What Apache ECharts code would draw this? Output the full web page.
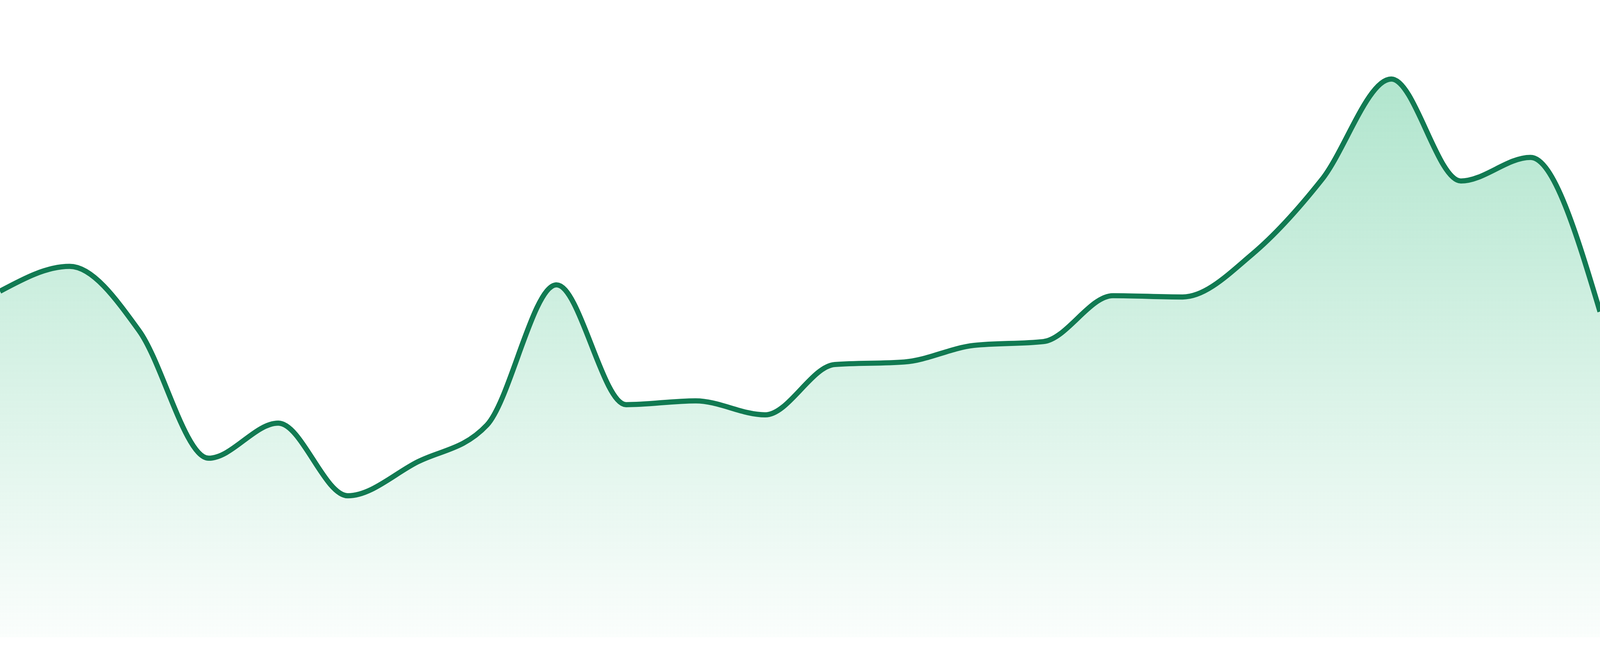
<!DOCTYPE html>
<html>
<head>
<meta charset="utf-8">
<title>area trend</title>
<script src="https://cdn.jsdelivr.net/npm/echarts@6/dist/echarts.min.js"></script>
<style>
	html, body { margin: 0; padding: 0; background: #ffffff; width: 100%; height: 100%; overflow: hidden; }
	#main { width: 100vw; height: 100vh; }
</style>
</head>
<body>
<div id="main"></div>
<script>
// x categories (no labels shown in the picture)
var days = [ '01', '02', '03', '04', '05', '06', '07', '08', '09', '10', '11', '12',
	'13', '14', '15', '16', '17', '18', '19', '20', '21', '22', '23', '24' ];
// series values (0 - 100 scale)
var values = [ 54.3, 58.2, 48.1, 28.1, 33.6, 22.2, 27.5, 33.3, 55.3, 36.5, 37.1, 34.9,
	42.8, 43.2, 45.8, 46.4, 53.6, 53.4, 60.1, 71.8, 87.6, 71.6, 75.3, 51.1 ];
var yMin = 0;
var yMax = 100;

// monotone-x cubic through the pixel points (same maths as d3 curveMonotoneX)
function monotonePath(pts) {
	var n = pts.length;
	var t = [];
	function sign(v) {
		return v < 0 ? -1 : 1;
	}
	for (var i = 1; i < n - 1; i++) {
		var h0 = pts[i][0] - pts[i - 1][0];
		var h1 = pts[i + 1][0] - pts[i][0];
		var s0 = (pts[i][1] - pts[i - 1][1]) / h0;
		var s1 = (pts[i + 1][1] - pts[i][1]) / h1;
		var p = (s0 * h1 + s1 * h0) / (h0 + h1);
		t[i] = (sign(s0) + sign(s1)) * Math.min(Math.abs(s0), Math.abs(s1), 0.5 * Math.abs(p)) || 0;
	}
	var ha = pts[1][0] - pts[0][0];
	t[0] = (3 * (pts[1][1] - pts[0][1]) / ha - t[1]) / 2;
	var hb = pts[n - 1][0] - pts[n - 2][0];
	t[n - 1] = (3 * (pts[n - 1][1] - pts[n - 2][1]) / hb - t[n - 2]) / 2;

	var d = 'M' + pts[0][0] + ',' + pts[0][1];
	for (i = 0; i < n - 1; i++) {
		var h = (pts[i + 1][0] - pts[i][0]) / 3;
		d += 'C' + (pts[i][0] + h) + ',' + (pts[i][1] + h * t[i]) + ','
			+ (pts[i + 1][0] - h) + ',' + (pts[i + 1][1] - h * t[i + 1]) + ','
			+ pts[i + 1][0] + ',' + pts[i + 1][1];
	}
	return d;
}

function echarts_area(k) {
	var option = {
		animation : false,
		grid : {
			left : 0,
			right : 0,
			top : 0,
			bottom : '2.857%'
		},
		xAxis : {
			type : 'category',
			boundaryGap : false,
			show : false,
			data : days
		},
		yAxis : {
			type : 'value',
			show : false,
			min : yMin,
			max : yMax
		},
		series : [ {
			type : 'custom',
			data : values.map(function (v, i) {
				return [ i, v ];
			}),
			encode : {
				x : 0,
				y : 1
			},
			renderItem : function (params, api) {
				// the whole curve is drawn once, from the first item
				if (params.dataIndex !== 0) {
					return null;
				}
				var pts = values.map(function (v, i) {
					return api.coord([ i, v ]);
				});
				var base = api.coord([ 0, yMin ])[1];
				var line = monotonePath(pts);
				var area = line + 'L' + pts[pts.length - 1][0] + ',' + base
					+ 'L' + pts[0][0] + ',' + base + 'Z';
				return {
					type : 'group',
					children : [ {
						type : 'path',
						shape : { pathData : area },
						style : {
							fill : new echarts.graphic.LinearGradient(0, 0, 0, 1, [ {
								offset : 0,
								color : 'rgba(18,177,105,0.33)'
							}, {
								offset : 1,
								color : 'rgba(18,177,105,0.02)'
							} ]),
							stroke : 'none'
						}
					}, {
						type : 'path',
						shape : { pathData : line },
						style : {
							fill : 'none',
							stroke : '#117a52',
							lineWidth : 15.5 * k
						}
					} ]
				};
			}
		} ]
	};
	return option;
}

var dom = document.getElementById('main');
// the picture is 4800 px wide; keep the stroke the same share of the width
var k = dom.clientWidth / 4800;
var chart = echarts.init(dom);
chart.setOption(echarts_area(k));
</script>
</body>
</html>
